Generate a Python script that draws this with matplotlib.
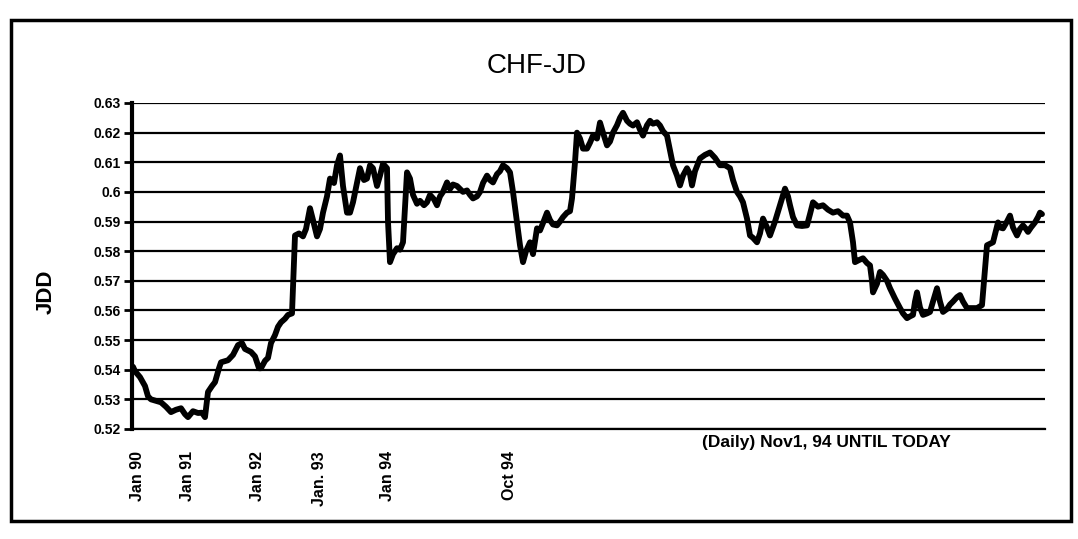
import matplotlib
matplotlib.use("Agg")
import matplotlib.pyplot as plt
from matplotlib.patches import Rectangle

# ---- data ----
# sample position along the (non-linear) time axis, in axis units
t = [1, 3, 8, 13, 16, 19, 24, 29, 34, 39,
     44, 49, 53, 56, 61, 66, 70, 73, 76, 80,
     83, 87, 89, 96, 101, 106, 110, 113, 116, 119,
     123, 127, 129, 133, 136, 139, 143, 146, 149, 153,
     156, 160, 163, 167, 171, 174, 178, 181, 185, 188,
     191, 195, 198, 202, 205, 208, 211, 215, 218, 221,
     225, 228, 232, 235, 238, 241, 245, 248, 251, 255,
     256, 258, 261, 265, 268, 271, 273, 275, 278, 281,
     285, 288, 292, 295, 298, 302, 305, 308, 311, 315,
     318, 321, 325, 328, 331, 335, 338, 341, 345, 348,
     351, 355, 358, 361, 365, 368, 371, 375, 378, 381,
     385, 388, 391, 394, 398, 401, 405, 408, 411, 415,
     418, 421, 425, 428, 431, 435, 438, 440, 443, 445,
     448, 451, 455, 458, 461, 465, 468, 471, 475, 478,
     481, 485, 488, 491, 495, 498, 501, 505, 508, 511,
     515, 518, 521, 525, 528, 531, 535, 538, 541, 545,
     548, 551, 555, 558, 560, 563, 568, 573, 578, 583,
     588, 593, 598, 601, 605, 608, 611, 615, 618, 621,
     625, 628, 631, 635, 638, 643, 648, 653, 656, 658,
     661, 665, 670, 675, 678, 681, 686, 691, 696, 701,
     706, 711, 715, 718, 721, 723, 727, 731, 735, 738,
     740, 741, 745, 748, 751, 755, 758, 763, 768, 771,
     775, 778, 781, 783, 785, 788, 791, 795, 798, 801,
     805, 808, 811, 815, 818, 821, 825, 828, 831, 835,
     840, 845, 850, 852, 855, 858, 861, 864, 866, 868,
     871, 875, 878, 881, 885, 888, 891, 894, 896, 899,
     903, 906, 908, 910]
jdd = [0.541, 0.5395, 0.5375, 0.5345, 0.531, 0.530, 0.5295, 0.529, 0.5275, 0.5257,
       0.5265, 0.527, 0.525, 0.524, 0.526, 0.5254, 0.5255, 0.524, 0.5325, 0.5345,
       0.5358, 0.5405, 0.5425, 0.5432, 0.545, 0.5483, 0.549, 0.547, 0.5465, 0.546,
       0.5445, 0.5405, 0.5405, 0.543, 0.544, 0.549, 0.5517, 0.5545, 0.556, 0.5572,
       0.5585, 0.559, 0.5853, 0.586, 0.585, 0.5875, 0.5945, 0.5905, 0.585, 0.5875,
       0.593, 0.5985, 0.6045, 0.603, 0.609, 0.6123, 0.602, 0.593, 0.593, 0.5965,
       0.603, 0.608, 0.604, 0.6045, 0.609, 0.608, 0.602, 0.6055, 0.6095, 0.608,
       0.590, 0.5763, 0.579, 0.581, 0.5805, 0.583, 0.595, 0.6066, 0.6045, 0.599,
       0.596, 0.597, 0.5955, 0.5965, 0.599, 0.5975, 0.5955, 0.5985, 0.600, 0.6032,
       0.601, 0.6025, 0.602, 0.601, 0.600, 0.6005, 0.599, 0.5978, 0.5985, 0.600,
       0.603, 0.6055, 0.604, 0.6032, 0.606, 0.607, 0.609, 0.608, 0.6066, 0.600,
       0.5897, 0.582, 0.5763, 0.580, 0.583, 0.579, 0.5877, 0.587, 0.5895, 0.593,
       0.5905, 0.589, 0.5887, 0.590, 0.5915, 0.593, 0.5935, 0.5978, 0.610, 0.620,
       0.618, 0.6146, 0.6146, 0.6166, 0.619, 0.618, 0.6234, 0.620, 0.6157, 0.617,
       0.620, 0.6225, 0.625, 0.6267, 0.624, 0.623, 0.6224, 0.6235, 0.621, 0.619,
       0.6225, 0.624, 0.623, 0.6235, 0.6224, 0.6205, 0.619, 0.614, 0.609, 0.6055,
       0.6022, 0.6055, 0.608, 0.606, 0.6022, 0.607, 0.6113, 0.6125, 0.6133, 0.6115,
       0.609, 0.609, 0.608, 0.604, 0.600, 0.5985, 0.5965, 0.591, 0.5853, 0.5845,
       0.583, 0.586, 0.591, 0.588, 0.5853, 0.590, 0.5955, 0.6011, 0.5985, 0.5955,
       0.5915, 0.5887, 0.5885, 0.5887, 0.5925, 0.5965, 0.595, 0.5955, 0.594, 0.593,
       0.5935, 0.592, 0.592, 0.5897, 0.583, 0.5763, 0.577, 0.5776, 0.576, 0.5752,
       0.570, 0.5661, 0.569, 0.573, 0.572, 0.570, 0.5675, 0.564, 0.5608, 0.559,
       0.5574, 0.558, 0.5585, 0.563, 0.5661, 0.561, 0.5585, 0.559, 0.5595, 0.563,
       0.5675, 0.563, 0.5595, 0.5605, 0.562, 0.563, 0.5645, 0.5652, 0.563, 0.5608,
       0.5608, 0.5608, 0.5618, 0.570, 0.582, 0.5825, 0.583, 0.587, 0.5897, 0.588,
       0.5877, 0.590, 0.592, 0.588, 0.5853, 0.5875, 0.5887, 0.5875, 0.5865, 0.588,
       0.5897, 0.5915, 0.593, 0.5925]

yticks = [0.52, 0.53, 0.54, 0.55, 0.56, 0.57, 0.58, 0.59, 0.60, 0.61, 0.62, 0.63]
ytick_labels = ["0.52", "0.53", "0.54", "0.55", "0.56", "0.57", "0.58", "0.59",
                "0.6", "0.61", "0.62", "0.63"]
xtick_pos = [5, 55, 125, 188, 256, 377]
xtick_labels = ["Jan 90", "Jan 91", "Jan 92", "Jan. 93", "Jan 94", "Oct 94"]

plt.rcParams["font.family"] = ["Liberation Sans", "DejaVu Sans"]

W, H = 1078, 539
fig = plt.figure(figsize=(W / 100, H / 100), dpi=100)
ax = fig.add_axes([132 / W, 1 - 429 / H, (1045 - 132) / W, (429 - 103) / H])

ax.set_xlim(0, 913)
ax.set_ylim(0.52, 0.63)
ax.set_yticks(yticks)
ax.set_yticklabels(ytick_labels, fontsize=10, fontweight="bold")
ax.set_xticks(xtick_pos)
ax.set_xticklabels(xtick_labels, rotation=90, fontsize=11.5, fontweight="bold",
                   va="top", ha="center")
ax.tick_params(axis="x", length=0, pad=16)
ax.tick_params(axis="y", length=6, width=2, direction="out", pad=2)

for v in yticks:
    ax.axhline(v, color="black", linewidth=1.6, zorder=1)

ax.plot(t, jdd, color="black", linewidth=4.2, solid_joinstyle="round",
        solid_capstyle="round", zorder=3)

for s in ["top", "right"]:
    ax.spines[s].set_visible(False)
ax.spines["left"].set_linewidth(3)
ax.spines["bottom"].set_linewidth(1.6)

fig.text(537 / W, 1 - 66 / H, "CHF-JD", fontsize=20, ha="center", va="center")
fig.text(46 / W, 1 - 292 / H, "JDD", fontsize=16, fontweight="bold",
         rotation=90, ha="center", va="center")
fig.text(826 / W, 1 - 442 / H, "(Daily) Nov1, 94 UNTIL TODAY", fontsize=12.5,
         fontweight="bold", ha="center", va="center")

fig.patches.append(Rectangle((11 / W, 1 - 521 / H), (1071 - 11) / W, (521 - 20) / H,
                             transform=fig.transFigure, fill=False,
                             edgecolor="black", linewidth=2.5))

fig.savefig("out.png", dpi=100, facecolor="white")
